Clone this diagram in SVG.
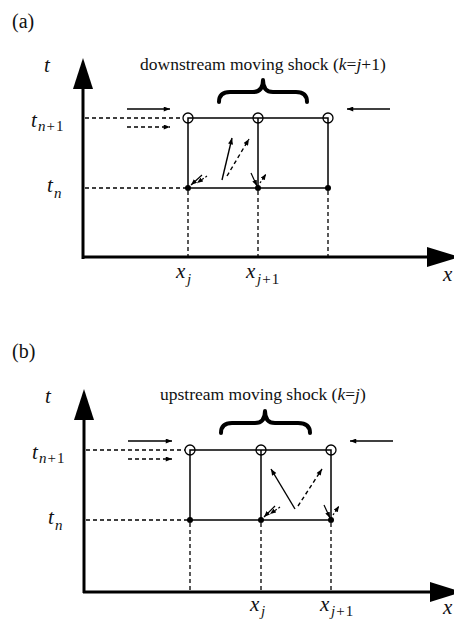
<svg xmlns="http://www.w3.org/2000/svg" width="454" height="619" viewBox="0 0 454 619">
<style>
text{font-family:"Liberation Serif","Times New Roman",serif;fill:#111}
.v{font-style:italic;font-size:21px}
.sub{font-size:15px}
.it{font-style:italic}
.lab{font-size:20px}
.ttl{font-size:17.5px}
.axis{stroke:#000;stroke-width:3;fill:none}
.grid{stroke:#000;stroke-width:1.5;fill:none}
.dash{stroke:#000;stroke-width:1.3;stroke-dasharray:4 3;fill:none}
.ar{stroke:#000;stroke-width:1.4;fill:none;marker-end:url(#ah)}
.ard{stroke:#000;stroke-width:1.4;stroke-dasharray:4 3;fill:none;marker-end:url(#ah)}
.sm{stroke:#000;stroke-width:1.2;fill:none;marker-end:url(#ahs)}
.smd{stroke:#000;stroke-width:1.2;stroke-dasharray:2 2;fill:none;marker-end:url(#ahs)}
.brace{stroke:#000;stroke-width:4;fill:none;stroke-linecap:round;stroke-linejoin:round}
.oc{stroke:#000;stroke-width:1.3;fill:none}
.dot{fill:#000}
</style>
<defs>
<marker id="ah" viewBox="0 0 10 8" refX="10" refY="4" markerWidth="8" markerHeight="5" orient="auto" markerUnits="userSpaceOnUse"><path d="M0,0 L10,4 L0,8 z" fill="#000"/></marker>
<marker id="ahs" viewBox="0 0 10 8" refX="10" refY="4" markerWidth="6" markerHeight="5" orient="auto" markerUnits="userSpaceOnUse"><path d="M0,0 L10,4 L0,8 z" fill="#000"/></marker>
</defs>

<!-- Panel (a) -->
<g id="panel-a">
<text x="12" y="28" class="lab">(a)</text>
<g id="a-axes">
<line x1="83" y1="259" x2="83" y2="86" class="axis"/>
<polygon points="83,58 73,89 93,89" fill="#000"/>
<line x1="82" y1="257" x2="430" y2="257" class="axis"/>
<polygon points="427,247 460,257 427,267" fill="#000"/>
<text x="44" y="72" class="v">t</text>
<text x="443" y="281" class="v">x</text>
</g>
<g id="a-labels">
<text x="31" y="127" class="v">t</text><text x="38" y="131" class="sub"><tspan class="it">n</tspan><tspan dx="1">+</tspan><tspan dx="1">1</tspan></text>
<text x="47" y="192" class="v">t</text><text x="54" y="198" class="sub it">n</text>
<text x="176" y="278" class="v">x</text><text x="187" y="284" class="sub it">j</text>
<text x="246" y="278" class="v">x</text><text x="257" y="284" class="sub"><tspan class="it">j</tspan><tspan dx="1">+</tspan><tspan dx="1">1</tspan></text>
<text x="140" y="70" class="ttl">downstream moving shock (<tspan class="it">k</tspan>=<tspan class="it">j</tspan>+1)</text>
</g>
<g id="a-brace"><path class="brace" d="M219,102 Q219,92 230,92 L253,92 Q263,92 263,80 Q263,92 273,92 L296,92 Q307,92 307,102"/></g>
<g id="a-grid">
<rect x="188" y="118" width="140" height="70" class="grid"/>
<line x1="258" y1="118" x2="258" y2="188" class="grid"/>
</g>
<g id="a-nodes">
<circle cx="188" cy="118" r="5" class="oc"/>
<circle cx="258" cy="118" r="5" class="oc"/>
<circle cx="328" cy="118" r="5" class="oc"/>
<circle cx="188" cy="188" r="3" class="dot"/>
<circle cx="258" cy="188" r="3" class="dot"/>
<circle cx="328" cy="188" r="3" class="dot"/>
</g>
<g id="a-connectors">
<line x1="85" y1="118" x2="183" y2="118" class="dash"/>
<line x1="85" y1="188" x2="188" y2="188" class="dash"/>
<line x1="188" y1="191" x2="188" y2="256" class="dash"/>
<line x1="258" y1="191" x2="258" y2="256" class="dash"/>
<line x1="328" y1="191" x2="328" y2="256" class="dash"/>
<line x1="127" y1="109" x2="170" y2="109" class="ar"/>
<line x1="127" y1="127" x2="170" y2="127" class="ard"/>
<line x1="390" y1="109" x2="347" y2="109" class="ar"/>
<line x1="222" y1="180" x2="232" y2="138" class="ar"/>
<line x1="227" y1="176" x2="249" y2="139" class="ard"/>
<line x1="202" y1="175" x2="191" y2="185" class="sm"/>
<line x1="207" y1="176" x2="197" y2="183" class="smd"/>
<line x1="251" y1="173" x2="257" y2="186" class="sm"/>
<line x1="260" y1="183" x2="266" y2="174" class="smd"/>
</g>
</g>

<!-- Panel (b) -->
<g id="panel-b">
<text x="12" y="358" class="lab">(b)</text>
<g id="b-axes">
<line x1="84" y1="593" x2="84" y2="417" class="axis"/>
<polygon points="84,389 74,420 94,420" fill="#000"/>
<line x1="83" y1="592" x2="432" y2="592" class="axis"/>
<polygon points="430,582 462,592 430,602" fill="#000"/>
<text x="45" y="403" class="v">t</text>
<text x="443" y="614" class="v">x</text>
</g>
<g id="b-labels">
<text x="32" y="459" class="v">t</text><text x="39" y="463" class="sub"><tspan class="it">n</tspan><tspan dx="1">+</tspan><tspan dx="1">1</tspan></text>
<text x="48" y="524" class="v">t</text><text x="55" y="530" class="sub it">n</text>
<text x="250" y="611" class="v">x</text><text x="261" y="616" class="sub it">j</text>
<text x="320" y="611" class="v">x</text><text x="331" y="616" class="sub"><tspan class="it">j</tspan><tspan dx="1">+</tspan><tspan dx="1">1</tspan></text>
<text x="160" y="400" class="ttl">upstream moving shock (<tspan class="it">k</tspan>=<tspan class="it">j</tspan>)</text>
</g>
<g id="b-brace"><path class="brace" d="M221,433 Q221,423 232,423 L255,423 Q265,423 265,411 Q265,423 275,423 L298,423 Q310,423 310,433"/></g>
<g id="b-grid">
<rect x="190" y="450" width="141" height="70" class="grid"/>
<line x1="261" y1="450" x2="261" y2="520" class="grid"/>
</g>
<g id="b-nodes">
<circle cx="190" cy="450" r="5" class="oc"/>
<circle cx="261" cy="450" r="5" class="oc"/>
<circle cx="331" cy="450" r="5" class="oc"/>
<circle cx="190" cy="520" r="3" class="dot"/>
<circle cx="261" cy="520" r="3" class="dot"/>
<circle cx="331" cy="520" r="3" class="dot"/>
</g>
<g id="b-connectors">
<line x1="86" y1="450" x2="185" y2="450" class="dash"/>
<line x1="86" y1="520" x2="190" y2="520" class="dash"/>
<line x1="190" y1="523" x2="190" y2="591" class="dash"/>
<line x1="261" y1="523" x2="261" y2="591" class="dash"/>
<line x1="331" y1="523" x2="331" y2="591" class="dash"/>
<line x1="128" y1="441" x2="172" y2="441" class="ar"/>
<line x1="128" y1="459" x2="172" y2="459" class="ard"/>
<line x1="393" y1="441" x2="350" y2="441" class="ar"/>
<line x1="295" y1="509" x2="271" y2="469" class="ar"/>
<line x1="298" y1="506" x2="322" y2="469" class="ard"/>
<line x1="275" y1="506" x2="264" y2="517" class="sm"/>
<line x1="280" y1="507" x2="270" y2="514" class="smd"/>
<line x1="324" y1="505" x2="330" y2="518" class="sm"/>
<line x1="333" y1="515" x2="339" y2="506" class="smd"/>
</g>
</g>
</svg>
